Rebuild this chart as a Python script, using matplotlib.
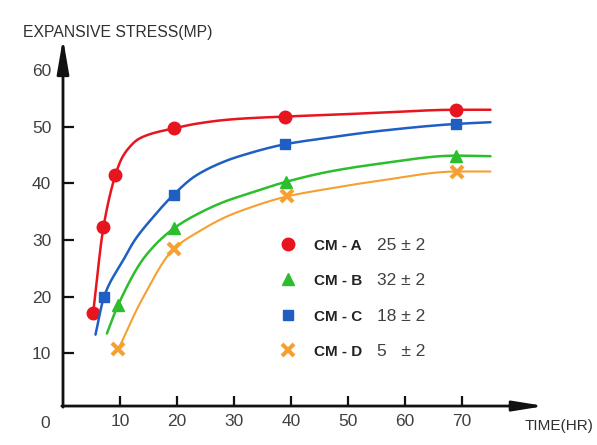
import numpy as np
import matplotlib
matplotlib.use("Agg")
import matplotlib.pyplot as plt
from matplotlib.lines import Line2D

plt.rcParams['font.family'] = ['Liberation Sans', 'DejaVu Sans']

# ---------------- data ----------------
series_names = ["CM - A", "CM - B", "CM - C", "CM - D"]
series_values = ["25 ± 2", "32 ± 2", "18 ± 2", "5   ± 2"]

# measured points (markers)
a_x = [5.3, 7.1, 9.2, 19.4, 38.9, 69.0]
a_y = [17.2, 32.3, 41.5, 49.7, 51.8, 53.0]
b_x = [9.7, 19.5, 39.2, 69.0]
b_y = [18.6, 32.1, 40.3, 44.9]
c_x = [7.2, 19.4, 38.9, 69.0]
c_y = [20.0, 38.0, 46.9, 50.5]
d_x = [9.7, 19.4, 39.3, 69.2]
d_y = [10.7, 28.4, 37.7, 42.1]

# fitted curves
a_cx = [5.3, 7.1, 9.2, 10.3, 11.5, 13.2, 15.6, 19.4, 23.2, 28.4, 31.6, 38.9, 46.8, 55.0, 69.0, 75.0]
a_cy = [17.2, 32.3, 41.5, 44.4, 46.2, 47.8, 48.8, 49.7, 50.5, 51.2, 51.45, 51.8, 52.1, 52.45, 53.0, 53.0]
b_cx = [7.7, 9.7, 14.4, 19.5, 24.0, 28.4, 31.6, 39.2, 46.8, 55.0, 69.0, 75.0]
b_cy = [13.5, 18.6, 27.1, 32.1, 34.8, 36.8, 37.9, 40.3, 42.1, 43.4, 44.9, 44.8]
c_cx = [5.7, 7.2, 10.6, 12.6, 15.6, 19.4, 23.2, 28.4, 31.6, 38.9, 46.8, 55.0, 69.0, 75.0]
c_cy = [13.3, 20.0, 26.5, 30.0, 33.8, 38.0, 41.3, 43.9, 45.0, 46.9, 48.1, 49.2, 50.5, 50.8]
d_cx = [9.7, 13.8, 19.4, 24.0, 28.4, 31.6, 39.3, 46.8, 55.0, 69.2, 75.0]
d_cy = [10.7, 19.4, 28.4, 31.6, 34.0, 35.3, 37.7, 39.1, 40.4, 42.1, 42.1]

x_ticks = [10, 20, 30, 40, 50, 60, 70]
y_ticks = [10, 20, 30, 40, 50, 60]

colors = ["#E8141E", "#2DBE2D", "#1F5FC4", "#F5A030"]
markers = ["o", "^", "s", "x"]


def pchip(x, y, xs):
    x = np.asarray(x, float)
    y = np.asarray(y, float)
    h = np.diff(x)
    d = np.diff(y) / h
    n = len(x)
    m = np.zeros(n)
    m[0] = d[0]
    m[-1] = d[-1]
    for k in range(1, n - 1):
        if d[k - 1] * d[k] <= 0:
            m[k] = 0.0
        else:
            w1 = 2 * h[k] + h[k - 1]
            w2 = h[k] + 2 * h[k - 1]
            m[k] = (w1 + w2) / (w1 / d[k - 1] + w2 / d[k])
    idx = np.clip(np.searchsorted(x, xs) - 1, 0, n - 2)
    t = (xs - x[idx]) / h[idx]
    h00 = 2 * t**3 - 3 * t**2 + 1
    h10 = t**3 - 2 * t**2 + t
    h01 = -2 * t**3 + 3 * t**2
    h11 = t**3 - t**2
    return h00 * y[idx] + h10 * h[idx] * m[idx] + h01 * y[idx + 1] + h11 * h[idx] * m[idx + 1]


fig = plt.figure(figsize=(5.97, 4.45), dpi=100)
fig.patch.set_facecolor("white")
ax = fig.add_axes([0, 0, 1, 1])
ax.set_facecolor("none")

# pixel mapping: x=0 at px 63, 5.7 px/unit ; y=0 at px 410, 5.665 px/unit
ax.set_xlim(-63 / 5.7, (597 - 63) / 5.7)
ax.set_ylim((410 - 445) / 5.665, 410 / 5.665)

x_axis_y = 0.7
y_top = 65.6
x_right = 84.5

for s in ["top", "right"]:
    ax.spines[s].set_visible(False)
ax.spines["left"].set_position(("data", 0))
ax.spines["bottom"].set_position(("data", x_axis_y))
ax.spines["left"].set_visible(False)
ax.spines["bottom"].set_visible(False)

# axes with arrows
ax.annotate("", xy=(0, y_top), xytext=(0, x_axis_y - 0.2),
            arrowprops=dict(arrowstyle="-|>,head_length=1.75,head_width=0.3",
                            lw=2.0, color="#111111", shrinkA=0, shrinkB=0, mutation_scale=12))
ax.annotate("", xy=(x_right, x_axis_y), xytext=(-0.2, x_axis_y),
            arrowprops=dict(arrowstyle="-|>,head_length=1.55,head_width=0.25",
                            lw=2.0, color="#111111", shrinkA=0, shrinkB=0, mutation_scale=12))

ax.set_xticks(x_ticks)
ax.set_yticks(y_ticks)
ax.tick_params(axis="x", direction="in", length=7.5, width=1.6, color="#111111",
               pad=5.5, labelsize=12.5, labelcolor="#404040")
ax.tick_params(axis="y", direction="in", length=8, width=1.6, color="#111111",
               pad=8.5, labelsize=12.5, labelcolor="#404040")
ax.yaxis.get_major_ticks()[-1].tick1line.set_visible(False)

ax.annotate("0", xy=(0, 0), xytext=(-13, -10), textcoords="offset points",
            ha="center", va="center", fontsize=12.5, color="#404040")

# curves and markers
curves = [(a_cx, a_cy), (b_cx, b_cy), (c_cx, c_cy), (d_cx, d_cy)]
points = [(a_x, a_y), (b_x, b_y), (c_x, c_y), (d_x, d_y)]
lws = [1.8, 1.8, 1.8, 1.5]
msizes = [9, 9, 6.8, 9]
for (cx, cy), (px, py), col, mk, lw, ms in zip(curves, points, colors, markers, lws, msizes):
    xs = np.linspace(cx[0], cx[-1], 400)
    ax.plot(xs, pchip(cx, cy, xs), color=col, lw=lw, solid_capstyle="round")
    if mk == "x":
        ax.plot(px, py, linestyle="none", marker=mk, color=col, ms=ms, mew=3)
    else:
        ax.plot(px, py, linestyle="none", marker=mk, color=col, ms=ms, mec=col)

# legend
handles = []
for col, mk, ms in zip(colors, markers, msizes):
    if mk == "x":
        handles.append(Line2D([], [], linestyle="none", marker=mk, color=col, ms=ms, mew=3))
    else:
        handles.append(Line2D([], [], linestyle="none", marker=mk, color=col, ms=ms))
blank = [Line2D([], [], linestyle="none") for _ in series_values]
leg = ax.legend(handles + blank, series_names + series_values, ncol=2,
                loc="upper left", bbox_to_anchor=(279 / 597, 1 - 238 / 445),
                bbox_transform=fig.transFigure, frameon=False,
                fontsize=12.5, handlelength=1.0, handletextpad=1.0,
                columnspacing=-1.15, labelspacing=1.16, borderpad=0, borderaxespad=0)
for i, t in enumerate(leg.get_texts()):
    if i < 4:
        t.set_fontweight("bold")
        t.set_fontsize(11)
        t.set_color("#222222")
    else:
        t.set_color("#404040")

fig.text(23 / 597, 1 - 32 / 445, "EXPANSIVE STRESS(MP)", ha="left", va="center",
         fontsize=11.3, color="#303030")
fig.text(525 / 597, 1 - 426 / 445, "TIME(HR)", ha="left", va="center",
         fontsize=11, color="#303030")

fig.savefig("out.png", dpi=100, facecolor="white")
